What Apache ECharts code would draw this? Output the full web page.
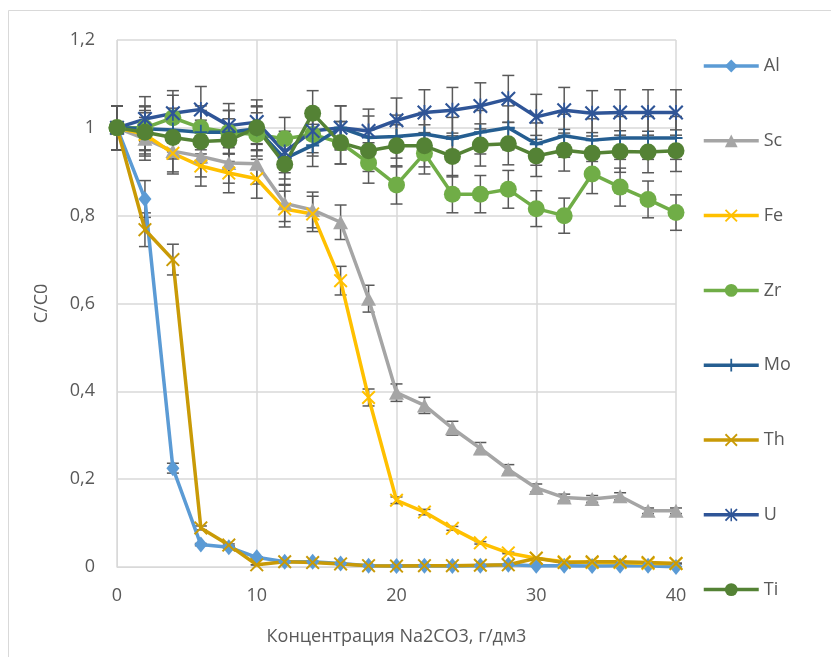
<!DOCTYPE html>
<html>
<head>
<meta charset="utf-8">
<script src="https://cdn.jsdelivr.net/npm/echarts@6/dist/echarts.min.js"></script>
<style>
html,body{margin:0;padding:0;background:#fff;}
#chart{width:831px;height:657px;}
</style>
</head>
<body>
<div id="chart"></div>
<script>
// ---- data ----
const xValues = [0,2,4,6,8,10,12,14,16,18,20,22,24,26,28,30,32,34,36,38,40];
const seriesNames = ['Al','Sc','Fe','Zr','Mo','Th','U','Ti'];
const Al = [1,0.838,0.225,0.051,0.045,0.022,0.012,0.012,0.008,0.003,0.002,0.003,0.002,0.003,0.005,0.003,0.003,0.002,0.003,0.003,0.000];
const Sc = [1,0.975,0.947,0.935,0.92,0.918,0.828,0.813,0.785,0.611,0.397,0.368,0.316,0.27,0.222,0.18,0.158,0.155,0.161,0.128,0.128];
const Fe = [1,0.985,0.942,0.913,0.897,0.884,0.815,0.804,0.652,0.386,0.152,0.125,0.088,0.055,0.032,0.02,0.012,0.01,0.01,0.008,0.008];
const Zr = [1,1.0,1.023,1.0,0.99,0.985,0.975,0.985,0.966,0.92,0.87,0.942,0.849,0.849,0.86,0.816,0.80,0.895,0.865,0.837,0.807];
const Mo = [1,0.998,0.995,0.99,0.99,0.998,0.93,0.96,1.0,0.978,0.98,0.986,0.975,0.99,1.0,0.963,0.982,0.972,0.977,0.977,0.977];
const Th = [1,0.768,0.70,0.089,0.05,0.005,0.012,0.01,0.007,0.003,0.002,0.003,0.003,0.004,0.005,0.02,0.01,0.012,0.012,0.01,0.008];
const U  = [1,1.02,1.033,1.042,1.005,1.013,0.945,0.993,1.0,0.993,1.017,1.035,1.04,1.05,1.066,1.025,1.04,1.033,1.035,1.035,1.035];
const Ti = [1,0.99,0.978,0.969,0.972,1.0,0.917,1.033,0.966,0.948,0.959,0.959,0.935,0.961,0.964,0.936,0.949,0.942,0.946,0.945,0.948];
const errorFraction = 0.05;
const yTicks = ['0','0,2','0,4','0,6','0,8','1','1,2'];
const xTitle = 'Концентрация Na2CO3, г/дм3';
const yTitle = 'C/C0';

const seriesData = [Al,Sc,Fe,Zr,Mo,Th,U,Ti];
const colors = ['#5B9BD5','#A5A5A5','#FFC000','#70AD47','#255E91','#C99A06','#2F5597','#548235'];

const xPath = 'path://M0,2L2,0L10,8L18,0L20,2L12,10L20,18L18,20L10,12L2,20L0,18L8,10Z';
const starPath = 'path://M0,2L2,0L10,8L18,0L20,2L12,10L20,18L18,20L10,12L2,20L0,18L8,10Z M8.8,0L11.2,0L11.2,20L8.8,20Z';
const plusPath = 'path://M8.6,0L11.4,0L11.4,8.6L20,8.6L20,11.4L11.4,11.4L11.4,20L8.6,20L8.6,11.4L0,11.4L0,8.6L8.6,8.6Z';
const symbols = ['diamond','triangle',xPath,'circle',plusPath,xPath,starPath,'circle'];
const symbolSizes = [[13,16],[15,14],14,17,[13,15],14,15,17];

const FONT = 'Open Sans';
const TXT = '#595959';

const series = [];
seriesNames.forEach((name,i)=>{
  const vals = seriesData[i];
  series.push({
    name: name + '_err',
    type: 'custom',
    data: xValues.map((x,j)=>[x, vals[j]*(1-errorFraction), vals[j]*(1+errorFraction)]),
    encode: {x:0, y:[1,2]},
    silent: true,
    z: 2,
    renderItem: function(params, api){
      const x = api.value(0);
      const top = api.coord([x, api.value(2)]);
      const bot = api.coord([x, api.value(1)]);
      const hw = 6;
      const st = {stroke:'#595959', lineWidth:1.5};
      return {type:'group', children:[
        {type:'line', shape:{x1:top[0],y1:top[1],x2:bot[0],y2:bot[1]}, style:st},
        {type:'line', shape:{x1:top[0]-hw,y1:top[1],x2:top[0]+hw,y2:top[1]}, style:st},
        {type:'line', shape:{x1:bot[0]-hw,y1:bot[1],x2:bot[0]+hw,y2:bot[1]}, style:st}
      ]};
    }
  });
  series.push({
    name: name,
    type: 'line',
    data: xValues.map((x,j)=>[x, vals[j]]),
    symbol: symbols[i],
    symbolSize: symbolSizes[i],
    showAllSymbol: true,
    z: 2,
    color: colors[i],
    lineStyle: {width: 3.5, color: colors[i]},
    itemStyle: {color: colors[i], opacity: 1},
    emphasis: {disabled: true}
  });
});

const chart = echarts.init(document.getElementById('chart'));
chart.setOption({
  animation: false,
  backgroundColor: '#fff',
  textStyle: {fontFamily: FONT},
  grid: {left: 117, right: 155, top: 40, bottom: 90, containLabel: false},
  graphic: [{
    type: 'rect', silent: true,
    shape: {x: 8.5, y: 10.5, width: 840, height: 660},
    style: {fill: 'none', stroke: '#D9D9D9', lineWidth: 1}
  }],
  legend: {
    data: seriesNames,
    orient: 'vertical',
    left: 697, top: 52,
    itemWidth: 55, itemHeight: 16,
    itemGap: 56.8,
    lineStyle: {width: 3.5},
    textStyle: {fontFamily: FONT, fontSize: 18, color: TXT}
  },
  xAxis: {
    type: 'value', min: 0, max: 40, interval: 10,
    name: xTitle, nameLocation: 'middle', nameGap: 61,
    nameTextStyle: {fontFamily: FONT, fontSize: 18, color: TXT},
    axisLine: {show: true, lineStyle: {color: '#D9D9D9', width: 1}},
    axisTick: {show: false},
    axisLabel: {fontFamily: FONT, fontSize: 18, color: TXT, margin: 20},
    splitLine: {show: true, lineStyle: {color: '#D9D9D9', width: 1.5}}
  },
  yAxis: {
    type: 'value', min: 0, max: 1.2, interval: 0.2,
    name: yTitle, nameLocation: 'middle', nameGap: 66,
    nameTextStyle: {fontFamily: FONT, fontSize: 18, color: TXT},
    axisLine: {show: true, lineStyle: {color: '#D9D9D9', width: 1}},
    axisTick: {show: false},
    axisLabel: {fontFamily: FONT, fontSize: 18, color: TXT, margin: 22,
      formatter: function(v){ const idx = Math.round(v/0.2); return yTicks[idx] !== undefined ? yTicks[idx] : String(v).replace('.', ','); }},
    splitLine: {show: true, lineStyle: {color: '#D9D9D9', width: 1.5}}
  },
  series: series
});
</script>
</body>
</html>
